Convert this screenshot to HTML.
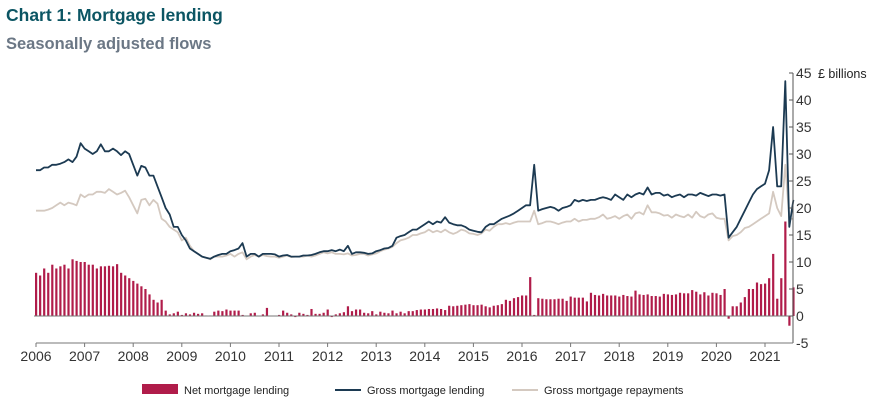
<!DOCTYPE html>
<html><head><meta charset="utf-8"><style>
body{margin:0;width:879px;height:409px;background:#fff;overflow:hidden;font-family:"Liberation Sans",sans-serif}
.t{position:absolute;left:6px;top:5px;font-size:17.5px;font-weight:bold;color:#0b5563}
.s{position:absolute;left:6px;top:35px;font-size:16.5px;font-weight:bold;color:#6b7785}
</style></head><body>
<div class="t">Chart 1: Mortgage lending</div>
<div class="s">Seasonally adjusted flows</div>
<svg id="c" width="879" height="409" style="position:absolute;left:0;top:0"></svg>
<script>
const years=[2006,2007,2008,2009,2010,2011,2012,2013,2014,2015,2016,2017,2018,2019,2020,2021];
const yTicks=[-5,0,5,10,15,20,25,30,35,40,45];
const gross=[27,27,27.5,27.5,28,28,28.2,28.5,29,28.5,29.5,32,
31,30.5,30,30.5,31.8,30.5,30.5,31,30.5,29.8,30.5,30,
28,26,27.8,27.5,26,26,24,22,20,18.8,16.5,16.5,
15,14,12.5,12,11.5,11,10.8,10.6,11,11.3,11.5,11.5,
12,12.2,12.5,13.5,11,11.5,11.5,11,11.5,11.5,11.5,11.4,
11,11.2,11.3,11,11,11,11.2,11.2,11.3,11.5,11.8,12,
12,12.2,12,12.3,12,13,11.5,11.8,11.8,11.7,11.5,11.6,
12,12.2,12.5,12.6,13,14.5,14.8,15,15.5,16,16,16.5,
17,17.5,17,17.5,17.3,18.3,17.3,17,16.8,16.8,16.5,16,
15.8,15.6,15.5,16.5,17,17,17.5,18,18.3,18.6,19,19.5,
20,20.5,20.5,28,19.5,19.8,20,20.2,20,19.5,20,20.2,
20.5,21.5,21.2,21.5,21.3,21.5,21.5,21.8,22,21.8,21.5,22.5,
22,21.5,22.5,22,22.5,22.8,22.5,23.8,22.5,22.8,22.8,22.3,
22.5,22,22.3,22.5,22,22.5,22.5,22.3,22.8,22.5,22.2,22.5,
22.5,22.3,22.5,14.5,15.5,16.5,18,19.5,21,22.5,23.5,24,
24.5,27,35,24,24,43.5,16.5,21.5];
const repay=[19.5,19.5,19.5,19.7,20,20.5,21,20.5,21,20.8,20.5,22.5,
22,22.5,22.5,23,23,22.8,23.5,23,22.5,22.8,23.2,22,
20.5,19,21.5,21.7,20.5,21.5,20.8,18,17.5,16.5,16,15.5,
14,14.5,13,12,11.5,11,10.8,10.5,11,11,11,11.2,
11.5,11,11.5,11.8,10.5,11,11.3,11,11.3,11.1,11,11,
10.8,11,11.2,10.9,11,11,11,11.2,11,11.2,11.5,11.8,
11.6,11.8,11.5,11.5,11.4,11.6,11.2,11.3,11.5,11.5,11.2,11.4,
11.6,12,12.3,12.5,12.8,13.5,14,14.2,14.5,15,15,15.3,
15.5,16,15.5,15.8,15.5,16,15.5,15.2,15.5,16,15.8,15.3,
15.2,15,15.3,16,15.8,16.5,17,17,17.2,17,17.3,17.5,
17.5,17.5,17.5,19.5,17,17.2,17.5,17.5,17.3,17,17.3,17.5,
17.5,18,17.5,17.8,17.8,18,18,18.3,18.8,18,18.2,18.5,
18,18.5,18.8,18,19,19.2,18.8,20.5,19.2,19.2,19,18.6,
18.7,18.2,18.8,18.5,18.3,18.8,18.2,19.3,18.5,18.2,18.8,19,
18.2,18,18,14,14.8,15,15.5,16.3,16.5,17,17.5,18,
18.5,19,23,20,18.5,28,18,18];
const net=[8,7.5,8.8,8,9.5,8.8,9.2,9.5,8.8,10.5,10.2,10,
10,9.5,9.5,8.8,9.2,9.2,9.3,9.2,9.6,8,7.5,7,
6.5,6,5.5,5,4,3,2.5,3,1,0.3,0.5,0.8,
0.2,0.5,0.3,0.6,0.4,0.5,0.1,0.1,0.8,1,0.9,1.2,
1,1,1,0.2,0,0.5,0.6,0,0.3,1.5,0,0,
0.2,1,0.6,0.3,-0.2,0.6,0.4,0.2,1.3,0.4,0.4,0.6,
1.2,-0.2,0.3,0.5,0.7,1.8,0.9,1.2,1.2,0.6,0.5,0.9,
0.3,0.8,0.6,0.5,1,0.5,0.8,0.5,0.9,0.9,1.1,1.2,
1.2,1.3,1.3,1.4,1.3,1.1,1.9,1.8,1.9,2,2.1,2.2,
2.0,2.0,2.1,1.8,1.6,1.9,2.0,2.2,3.0,2.8,3.3,3.5,
3.8,3.8,7.2,0.2,3.3,3.2,3.1,3.1,3.1,3.2,3.2,2.8,
3.6,3.4,3.4,3.4,2.7,4.3,3.9,3.8,4.1,3.8,3.8,3.8,
3.6,3.9,3.7,3.6,4.7,4,3.9,4,3.7,3.7,3.6,4.1,
4,3.9,4,4.3,4.2,4.2,4.8,4.5,4,4.4,3.8,4.3,
4.2,3.9,5,-0.5,1.8,1.8,2.5,3.5,5,5,6.2,5.9,
6,7,11.5,3.2,7,17.5,-1.8,5.3];
const NS='http://www.w3.org/2000/svg';
const svg=document.getElementById('c');
const x0=36,yw=48.6,axX=793;
function X(i){return x0+i*yw/12;}
function Y(v){return 316-v*5.4;}
function mk(t,a,p){const e=document.createElementNS(NS,t);for(const k in a)e.setAttribute(k,a[k]);(p||svg).appendChild(e);return e;}
const gb=mk('g',{});


net.forEach((v,i)=>{const r=mk('rect',{x:X(i)-1,y:Math.min(Y(v),Y(0)),width:2.2,height:Math.abs(Y(v)-Y(0)),fill:'#b01c4a'},gb);

});
const z=mk('line',{x1:X(0)-2,x2:axX,y1:Y(0),y2:Y(0),stroke:'#777','stroke-width':1});


function line(d,c,n){const p=mk('polyline',{points:d.map((v,i)=>X(i).toFixed(1)+','+Y(v).toFixed(1)).join(' '),fill:'none',stroke:c,'stroke-width':1.8,'stroke-linejoin':'round'});

}
line(repay,'#d4c9c0','gross-repayments-line');
line(gross,'#1c3a52','gross-lending-line');
const ya=mk('line',{x1:axX,x2:axX,y1:Y(45),y2:Y(-5),stroke:'#555','stroke-width':1});


yTicks.forEach(v=>{mk('line',{x1:axX,x2:axX-4,y1:Y(v),y2:Y(v),stroke:'#555'});
const t=mk('text',{x:axX+3,y:Y(v)+5,'font-size':14,fill:'#333'});t.textContent=v;

});
const u=mk('text',{x:818,y:Y(45)+5,'font-size':12.5,fill:'#222'});u.textContent='£ billions';


const xa=mk('line',{x1:X(0),x2:axX,y1:343,y2:343,stroke:'#777'});


years.forEach((yr,k)=>{const xx=X(k*12);mk('line',{x1:xx,x2:xx,y1:343,y2:347,stroke:'#777'});
const t=mk('text',{x:xx,y:361,'font-size':14,fill:'#333','text-anchor':'middle'});t.textContent=yr;

});
function leg(x,kind,c,txt,n){const g=mk('g',{});


if(kind==='bar')mk('rect',{x:x,y:384,width:36,height:10,fill:c},g);else mk('line',{x1:x,x2:x+26,y1:390,y2:390,stroke:c,'stroke-width':2},g);
const t=mk('text',{x:x+(kind==='bar'?42:32),y:394,'font-size':11,fill:'#222'},g);t.textContent=txt;}
leg(142,'bar','#b01c4a','Net mortgage lending','legend-net');
leg(335,'line','#1c3a52','Gross mortgage lending','legend-gross');
leg(512,'line','#d4c9c0','Gross mortgage repayments','legend-repayments');
</script>
</body></html>
